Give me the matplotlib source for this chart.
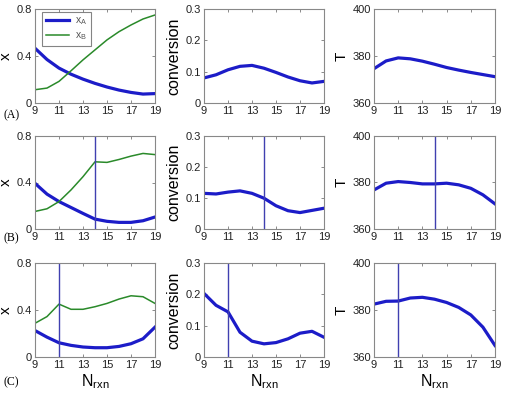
import matplotlib
matplotlib.use("Agg")
import matplotlib.pyplot as plt

N = [9, 10, 11, 12, 13, 14, 15, 16, 17, 18, 19]

# Row A
xA_A = [0.466, 0.37, 0.297, 0.245, 0.203, 0.167, 0.136, 0.11, 0.09, 0.076, 0.08]
xB_A = [0.113, 0.127, 0.184, 0.274, 0.367, 0.452, 0.537, 0.607, 0.664, 0.715, 0.749]
conv_A = [0.08, 0.09, 0.106, 0.117, 0.12, 0.111, 0.0976, 0.083, 0.071, 0.064, 0.069]
T_A = [374.6, 377.9, 379.2, 378.8, 377.8, 376.5, 375.1, 374.0, 373.0, 372.1, 371.2]

# Row B
xA_B = [0.393, 0.30, 0.236, 0.185, 0.134, 0.085, 0.066, 0.057, 0.057, 0.071, 0.103]
xB_B = [0.151, 0.174, 0.236, 0.336, 0.45, 0.578, 0.573, 0.598, 0.627, 0.65, 0.64]
conv_B = [0.115, 0.113, 0.119, 0.123, 0.115, 0.0993, 0.075, 0.059, 0.053, 0.06, 0.067]
T_B = [376.8, 379.7, 380.4, 380.0, 379.4, 379.4, 379.7, 379.0, 377.5, 374.7, 370.8]
vline_B = 14

# Row C
xA_C = [0.225, 0.169, 0.121, 0.099, 0.085, 0.079, 0.079, 0.09, 0.113, 0.155, 0.254]
xB_C = [0.287, 0.344, 0.45, 0.406, 0.406, 0.428, 0.456, 0.493, 0.521, 0.513, 0.456]
conv_C = [0.203, 0.165, 0.144, 0.079, 0.0505, 0.042, 0.046, 0.058, 0.076, 0.082, 0.063]
T_C = [382.5, 383.7, 383.8, 385.1, 385.4, 384.6, 383.2, 381.1, 377.9, 372.7, 364.9]
vline_C = 11

xticks = [9, 11, 13, 15, 17, 19]
x_yticks = [0, 0.4, 0.8]
x_ytl = ["0", "0.4", "0.8"]
c_yticks = [0, 0.1, 0.2, 0.3]
c_ytl = ["0", "0.1", "0.2", "0.3"]
T_yticks = [360, 380, 400]
T_ytl = ["360", "380", "400"]
panel_labels = ["(A)", "(B)", "(C)"]

BLUE = "#1c1cc8"
GREEN = "#2a8a2a"
VBLUE = "#4040b0"

plt.rcParams["font.family"] = ["Liberation Sans", "DejaVu Sans"]

fig = plt.figure(figsize=(5.05, 3.95), dpi=100)
W, H = 505.0, 395.0
cols = [(35, 155), (204, 324), (374, 495)]
rows = [(9, 103), (136, 229), (263, 357)]

rowdata = [
    (xA_A, xB_A, conv_A, T_A, None),
    (xA_B, xB_B, conv_B, T_B, vline_B),
    (xA_C, xB_C, conv_C, T_C, vline_C),
]

def style(ax, yticks, ytl, ylim):
    ax.set_xlim(9, 19)
    ax.set_ylim(*ylim)
    ax.set_xticks(xticks)
    ax.set_xticklabels([str(t) for t in xticks])
    ax.set_yticks(yticks)
    ax.set_yticklabels(ytl)
    ax.tick_params(direction="in", top=True, right=True, length=2.5, width=0.6,
                   colors="#777777", labelcolor="#222222", labelsize=8, pad=2)
    for s in ax.spines.values():
        s.set_color("#888888")
        s.set_linewidth(0.8)

for r, (top, bot) in enumerate(rows):
    xa, xb, cv, tt, vl = rowdata[r]
    axes = []
    for c, (l, rr) in enumerate(cols):
        ax = fig.add_axes([l / W, 1 - bot / H, (rr - l) / W, (bot - top) / H])
        axes.append(ax)
    ax0, ax1, ax2 = axes
    l0, = ax0.plot(N, xa, color=BLUE, lw=2.3, label="x$_\\mathregular{A}$")
    l1, = ax0.plot(N, xb, color=GREEN, lw=1.1, label="x$_\\mathregular{B}$")
    style(ax0, x_yticks, x_ytl, (0, 0.8))
    ax0.set_ylabel("x", fontsize=11, labelpad=3)
    ax1.plot(N, cv, color=BLUE, lw=2.3)
    style(ax1, c_yticks, c_ytl, (0, 0.3))
    ax1.set_ylabel("conversion", fontsize=11.5, labelpad=3)
    ax2.plot(N, tt, color=BLUE, lw=2.3)
    style(ax2, T_yticks, T_ytl, (360, 400))
    ax2.set_ylabel("T", fontsize=11, labelpad=3)
    if vl is not None:
        for ax in axes:
            ax.axvline(vl, color=VBLUE, lw=1.0)
    if r == 0:
        leg = ax0.legend(loc="upper left", fontsize=7.5, frameon=True, fancybox=False,
                         borderpad=0.35, handlelength=2.2, labelspacing=0.3,
                         handletextpad=0.6, borderaxespad=0,
                         bbox_to_anchor=(0.058, 0.97))
        leg.get_frame().set_edgecolor("#666666")
        leg.get_frame().set_linewidth(0.8)
        for t in leg.get_texts():
            t.set_color("#555555")
    if r == 2:
        for ax in axes:
            ax.set_xlabel("N$_\\mathregular{rxn}$", fontsize=11.5, labelpad=2)

fig.text(3 / W, 1 - 115 / H, panel_labels[0], family="Liberation Serif", fontsize=8.5, va="center")
fig.text(3 / W, 1 - 238 / H, panel_labels[1], family="Liberation Serif", fontsize=8.5, va="center")
fig.text(3 / W, 1 - 382 / H, panel_labels[2], family="Liberation Serif", fontsize=8.5, va="center")

fig.savefig("out.png", dpi=100)
